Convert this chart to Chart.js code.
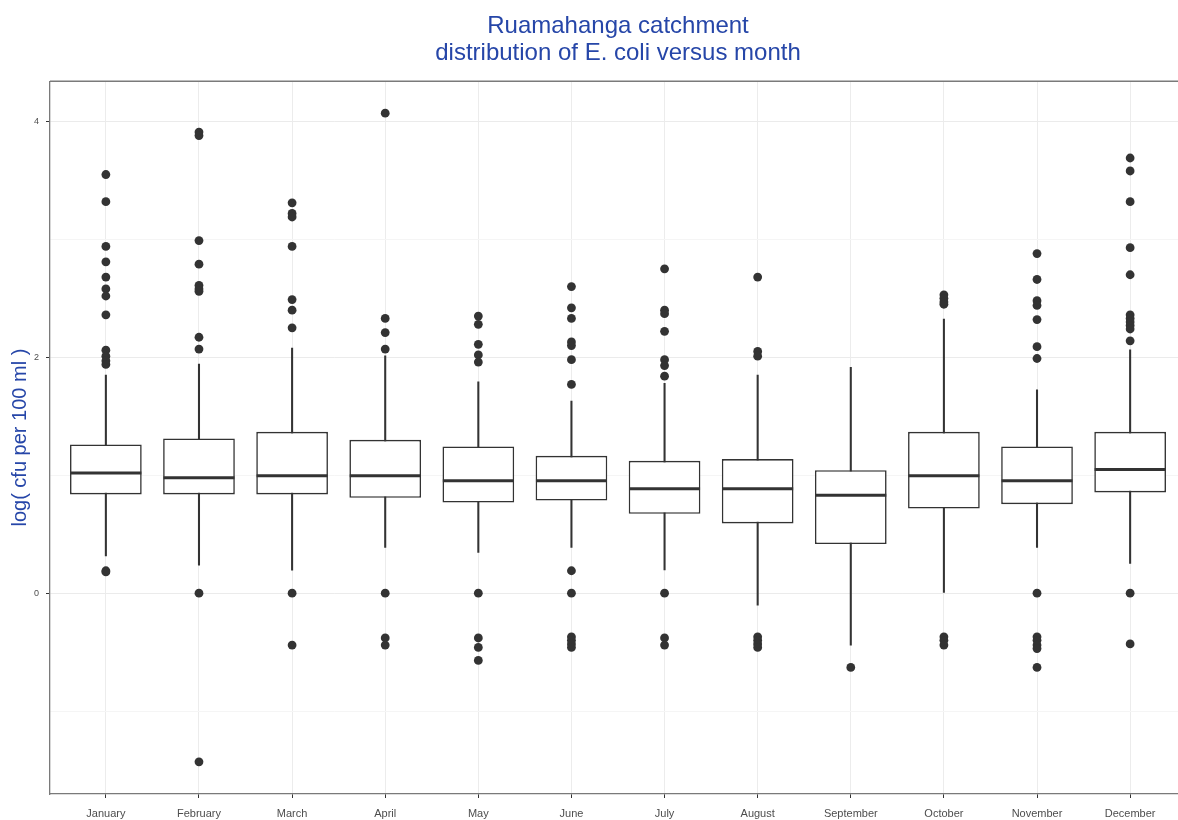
<!DOCTYPE html>
<html>
<head>
<meta charset="utf-8">
<script src="https://cdn.jsdelivr.net/npm/chart.js@4.4.1/dist/chart.umd.min.js"></script>
<style>
  html, body { margin: 0; padding: 0; background: #fff; overflow: hidden; }
  canvas { display: block; }
</style>
</head>
<body>
<!-- the panel runs a little past the right edge, like the cropped original -->
<canvas id="boxChart" width="1240" height="820"></canvas>
<script>
// months on the x axis
const months = ['January', 'February', 'March', 'April', 'May', 'June',
  'July', 'August', 'September', 'October', 'November', 'December'];

// box stats (log cfu per 100 ml)
const whiskerLow  = [0.316, 0.237, 0.195, 0.387, 0.345, 0.387, 0.198, -0.102, -0.441, 0.006, 0.387, 0.252];
const q1          = [0.837, 0.837, 0.837, 0.809, 0.769, 0.786, 0.673, 0.591, 0.416, 0.718, 0.755, 0.854];
const medians     = [1.020, 0.978, 0.995, 0.995, 0.953, 0.953, 0.885, 0.885, 0.831, 0.995, 0.953, 1.049];
const q3          = [1.261, 1.312, 1.368, 1.300, 1.244, 1.165, 1.122, 1.137, 1.043, 1.368, 1.244, 1.368];
const whiskerHigh = [1.849, 1.942, 2.078, 2.013, 1.792, 1.628, 1.779, 1.849, 1.914, 2.324, 1.725, 2.064];

// outlier points per month
const outliers = [
  [3.55, 3.32, 2.94, 2.81, 2.68, 2.58, 2.52, 2.36, 2.06, 2.01, 1.97, 1.94, 0.19, 0.18],
  [3.91, 3.88, 2.99, 2.79, 2.61, 2.58, 2.56, 2.17, 2.07, 0, -1.43],
  [3.31, 3.22, 3.19, 2.94, 2.49, 2.40, 2.25, 0, -0.44],
  [4.07, 2.33, 2.21, 2.07, 0, -0.38, -0.44],
  [2.35, 2.28, 2.11, 2.02, 1.96, 0, -0.38, -0.46, -0.57],
  [2.60, 2.42, 2.33, 2.13, 2.10, 1.98, 1.77, 0.19, 0, -0.37, -0.40, -0.43, -0.46],
  [2.75, 2.40, 2.37, 2.22, 1.98, 1.93, 1.84, 0, -0.38, -0.44],
  [2.68, 2.05, 2.01, -0.37, -0.40, -0.43, -0.46],
  [-0.63],
  [2.53, 2.50, 2.47, 2.45, -0.37, -0.40, -0.44],
  [2.88, 2.66, 2.48, 2.44, 2.32, 2.09, 1.99, 0, -0.37, -0.40, -0.44, -0.47, -0.63],
  [3.69, 3.58, 3.32, 2.93, 2.70, 2.36, 2.33, 2.30, 2.27, 2.24, 2.14, 0, -0.43]
];

// y ticks: labels only on the major ones
const yMajorTicks = [0, 2, 4];

const titleBlue = '#2646a8';
const ink = '#333333';
const fontFamily = '"Liberation Sans", Arial, sans-serif';

// build datasets from the arrays
const whiskerData = months.map((m, i) => ({ x: i + 1, y: [whiskerLow[i], whiskerHigh[i]] }));
const boxData = months.map((m, i) => ({ x: i + 1, y: [q1[i], q3[i]] }));
const medianData = months.map((m, i) => ({ x: i + 1, y: medians[i] }));
const outlierData = [];
outliers.forEach((list, i) => {
  list.forEach(v => outlierData.push({ x: i + 1, y: v }));
});

// top and right border of the panel (theme_bw look)
const panelBorder = {
  id: 'panelBorder',
  afterDraw(chart) {
    const { ctx, chartArea } = chart;
    ctx.save();
    ctx.strokeStyle = '#7a7a7a';
    ctx.lineWidth = 1.3;
    ctx.beginPath();
    ctx.moveTo(chartArea.left, chartArea.top);
    ctx.lineTo(chartArea.right, chartArea.top);
    ctx.lineTo(chartArea.right, chartArea.bottom);
    ctx.stroke();
    ctx.restore();
  }
};

const boxChart = new Chart('boxChart', {
  type: 'bar',
  data: {
    datasets: [
      {
        // whisker, drawn behind the box
        type: 'bar',
        data: whiskerData,
        backgroundColor: ink,
        borderWidth: 0,
        barThickness: 1.4,
        grouped: false,
        order: 3
      },
      {
        type: 'bar',
        data: boxData,
        backgroundColor: '#ffffff',
        borderColor: ink,
        borderWidth: 1.6,
        borderSkipped: false,
        categoryPercentage: 1,
        barPercentage: 0.77,
        grouped: false,
        order: 2
      },
      {
        // median line
        type: 'scatter',
        data: medianData,
        pointStyle: 'line',
        pointRadius: 35.5,
        borderColor: ink,
        borderWidth: 3,
        order: 1
      },
      {
        type: 'scatter',
        data: outlierData,
        pointStyle: 'circle',
        pointRadius: 4.4,
        backgroundColor: ink,
        borderColor: ink,
        borderWidth: 0,
        order: 0
      }
    ]
  },
  options: {
    responsive: false,
    animation: false,
    devicePixelRatio: 1,
    // the wide median markers would otherwise push the panel in
    layout: { autoPadding: false, padding: { left: 0, right: 54, top: 0, bottom: 0 } },
    plugins: {
      legend: { display: false },
      tooltip: { enabled: false },
      title: {
        display: true,
        fullSize: false, // centre over the panel like ggplot
        text: ['Ruamahanga catchment', 'distribution of E. coli versus month'],
        color: titleBlue,
        font: { family: fontFamily, size: 24, weight: 'normal', lineHeight: 1.13 },
        padding: { top: 13, bottom: 14 }
      }
    },
    scales: {
      x: {
        type: 'linear',
        min: 0.4,
        max: 12.6,
        offset: false,
        afterBuildTicks: (scale) => {
          scale.ticks = months.map((m, i) => ({ value: i + 1 }));
        },
        afterFit: (scale) => { scale.height = 26; },
        ticks: {
          autoSkip: false,
          maxRotation: 0,
          padding: 9,
          color: '#4d4d4d',
          font: { family: fontFamily, size: 11 },
          callback: (v) => months[v - 1]
        },
        grid: { offset: false, color: '#ececec', lineWidth: 1, tickLength: 4, tickColor: ink },
        border: { display: true, color: '#7a7a7a', width: 1.3 }
      },
      y: {
        min: -1.703,
        max: 4.341,
        afterFit: (scale) => { scale.width = 50; },
        ticks: {
          stepSize: 1,
          includeBounds: false,
          padding: 7,
          color: '#4d4d4d',
          font: { family: fontFamily, size: 9 },
          callback: (v) => yMajorTicks.includes(v) ? String(v) : ''
        },
        grid: {
          color: (c) => yMajorTicks.includes(c.tick.value) ? '#ebebeb' : '#f5f5f5',
          tickColor: (c) => yMajorTicks.includes(c.tick.value) ? ink : 'rgba(0,0,0,0)',
          tickLength: 4
        },
        border: { display: true, color: '#7a7a7a', width: 1.3 },
        title: {
          display: true,
          text: 'log( cfu per 100 ml )',
          color: titleBlue,
          font: { family: fontFamily, size: 20 },
          padding: { top: 8, bottom: 4 }
        }
      }
    }
  },
  plugins: [panelBorder]
});
</script>
</body>
</html>
